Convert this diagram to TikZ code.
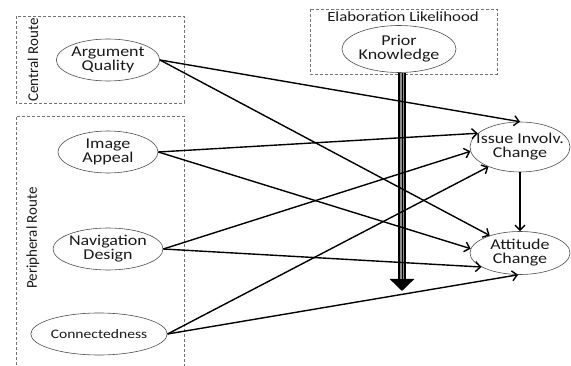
\documentclass[tikz,border=0pt]{standalone}
\usepackage{fontspec}
\setmainfont{Carlito}[FakeStretch=1.2]
\newfontfamily\routefont{Carlito}
\usetikzlibrary{positioning}
\usetikzlibrary{arrows.meta}
\usetikzlibrary{shapes.geometric}
\tikzset{
  construct/.style={ellipse, draw=black!70, line width=0.6pt, minimum width=100pt,
    minimum height=42pt, inner sep=0pt, align=center, text=black!90,
    font=\fontsize{15}{14}\selectfont},
  effect/.style={line width=1.4pt, -{Straight Barb[length=5pt,width=10pt]}},
  routebox/.style={draw=black!55, densely dashed, line width=0.8pt},
  routelabel/.style={rotate=90, text=black!90, font=\routefont\fontsize{15}{14}\selectfont}
}
\begin{document}
\begin{tikzpicture}[x=1pt,y=-1pt]
	\useasboundingbox (0,0) rectangle (571,366);
	% route boxes
	\draw[routebox] (16,16) rectangle (184,103);
	\draw[routebox] (16,370) |- (184,116) -- (184,370);
	\draw[routebox] (310,9) rectangle (497,74);
	\node[routelabel] (central) at (33,60) {Central Route};
	\node[routelabel] (peripheral) at (33,238) {Peripheral Route};
	\node[text=black!90, font=\fontsize{14}{14}\selectfont] (elab) at (403,17) {Elaboration Likelihood};
	% constructs
	\node[construct] (aq) at (108,60) {Argument\\Quality};
	\node[construct] (ia) at (108,152) {Image\\Appeal};
	\node[construct] (nd) at (108,249) {Navigation\\Design};
	\node[construct, font=\fontsize{13}{13}\selectfont] (cn) at (99,334) {Connectedness};
	\node[construct, minimum width=90pt, minimum height=47pt] (pk) at (399,49) {Prior\\Knowledge};
	\node[construct, minimum height=50pt, inner xsep=-14pt] (iic) at (520,147) {Issue Involv.\\Change};
	\node[construct, minimum height=43pt] (ac) at (520,253) {Attitude\\Change};
	% moderating arrow
	\coordinate (pkend) at (402,291);
	\draw[line width=8pt, -{Triangle[length=12pt,width=24pt]}] (pk.south -| pkend) -- (pkend);
	\draw[line width=4pt, black!45, shorten >=12pt] (pk.south -| pkend) -- (pkend);
	\draw[line width=1pt, shorten >=12pt] (pk.south -| pkend) -- (pkend);
	% effects
	\draw[effect] (aq.east) -- (iic.north);
	\draw[effect] (aq.east) -- (ac.150);
	\draw[effect] (ia.east) -- (iic.162);
	\draw[effect] (ia.east) -- (ac.175);
	\draw[effect] (nd.east) -- (iic.185);
	\draw[effect] (nd.east) -- (ac.200);
	\draw[effect] (cn.east) -- (iic.212);
	\draw[effect] (cn.east) -- (ac.265);
	\draw[effect] (iic) -- (ac);
\end{tikzpicture}
\end{document}
